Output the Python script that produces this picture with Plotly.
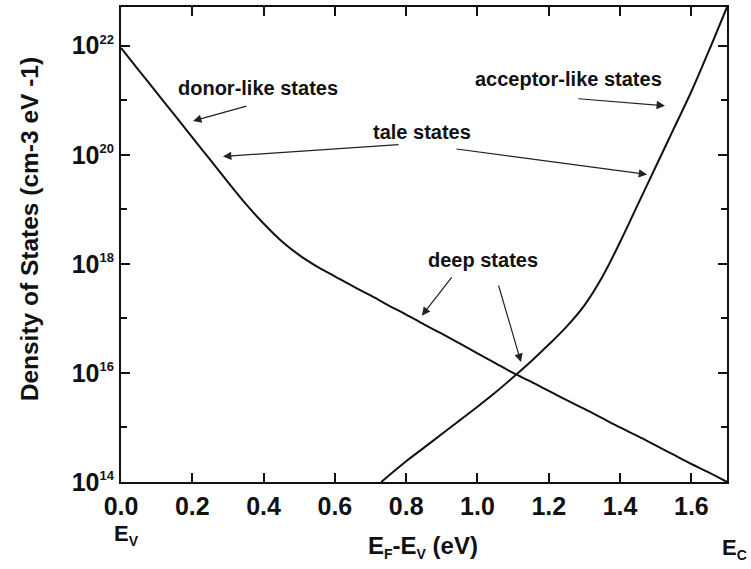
import plotly.graph_objects as go

# Energy above the valence band edge (eV)
donor_energy = [0.00, 0.05, 0.10, 0.15, 0.20, 0.25, 0.30, 0.35, 0.40, 0.45, 0.50, 0.55,
                0.60, 0.65, 0.70, 0.75, 0.80, 0.85, 0.90, 0.95, 1.00, 1.05, 1.10, 1.15,
                1.20, 1.25, 1.30, 1.35, 1.40, 1.45, 1.50, 1.55, 1.60, 1.65, 1.70]
# log10 of donor-like density of states (cm-3 eV-1)
donor_log10 = [21.96, 21.55, 21.14, 20.73, 20.32, 19.91, 19.50, 19.10, 18.74, 18.42, 18.16, 17.95,
               17.77, 17.59, 17.42, 17.24, 17.07, 16.89, 16.72, 16.54, 16.36, 16.18, 16.00, 15.84,
               15.67, 15.50, 15.34, 15.17, 15.00, 14.84, 14.67, 14.50, 14.33, 14.17, 14.00]

acceptor_energy = [0.73, 0.80, 0.85, 0.90, 0.95, 1.00, 1.05, 1.10, 1.15, 1.20, 1.25,
                   1.30, 1.35, 1.40, 1.45, 1.50, 1.55, 1.60, 1.65, 1.70]
# log10 of acceptor-like density of states (cm-3 eV-1)
acceptor_log10 = [14.00, 14.38, 14.63, 14.88, 15.13, 15.38, 15.64, 15.92, 16.21, 16.52, 16.85,
                  17.24, 17.76, 18.40, 19.09, 19.78, 20.47, 21.16, 21.92, 22.71]

x_tick_vals = [0.0, 0.2, 0.4, 0.6, 0.8, 1.0, 1.2, 1.4, 1.6]
x_tick_text = ["0.0", "0.2", "0.4", "0.6", "0.8", "1.0", "1.2", "1.4", "1.6"]
y_major_exp = [14, 16, 18, 20, 22]
y_minor_exp = [15, 17, 19, 21]

# Callout labels: (text, energy, log10 density)
labels = [
    ("donor-like states", 0.383, 21.23),
    ("tale states", 0.844, 20.41),
    ("acceptor-like states", 1.254, 21.39),
    ("deep states", 1.016, 18.07),
]
# Callout arrows: (tail energy, tail log10, tip energy, tip log10)
arrows = [
    (0.356, 20.90, 0.202, 20.62),
    (0.783, 20.19, 0.286, 19.97),
    (0.937, 20.11, 1.476, 19.64),
    (1.279, 21.03, 1.526, 20.90),
    (0.931, 17.78, 0.844, 17.05),
    (1.058, 17.63, 1.122, 16.20),
]

FONT = "Liberation Sans, Arial, Helvetica, sans-serif"
INK = "#111111"

fig = go.Figure()
for xs, logs in [(donor_energy, donor_log10), (acceptor_energy, acceptor_log10)]:
    fig.add_trace(go.Scatter(
        x=xs, y=[10.0 ** v for v in logs], mode="lines",
        line=dict(color=INK, width=2, shape="spline", smoothing=1.0),
        showlegend=False, hoverinfo="skip", cliponaxis=True,
    ))

axis_common = dict(
    showline=True, linewidth=2, linecolor=INK, mirror="ticks",
    ticks="inside", tickwidth=2, tickcolor=INK,
    showgrid=False, zeroline=False,
    tickfont=dict(family=FONT, size=25, color=INK, weight="bold"),
)

fig.update_xaxes(
    range=[0, 1.7], tickvals=x_tick_vals, ticktext=x_tick_text, ticklen=9,
    ticklabelstandoff=1, **axis_common,
)
fig.update_yaxes(
    type="log", range=[14, 22.71],
    tickvals=[10.0 ** e for e in y_major_exp],
    ticktext=[f"10<sup><span style='font-size:13px'>{e}</span></sup>" for e in y_major_exp],
    ticklen=9,
    minor=dict(tickvals=[10.0 ** e for e in y_minor_exp], ticklen=6, ticks="inside",
               tickwidth=2, tickcolor=INK, showgrid=False),
    **axis_common,
)

annotations = []
for text, x, y in labels:
    annotations.append(dict(
        text=f"<b>{text}</b>", x=x, y=y, xref="x", yref="y", showarrow=False,
        font=dict(family=FONT, size=20, color=INK), xanchor="center", yanchor="middle",
    ))
for ax, ay, x, y in arrows:
    annotations.append(dict(
        text="", x=x, y=y, ax=ax, ay=ay, xref="x", yref="y", axref="x", ayref="y",
        showarrow=True, arrowhead=2, arrowsize=1.4, arrowwidth=1.2, arrowcolor="#222222",
    ))

# Axis titles and band-edge markers
annotations += [
    dict(text="<b>Density of States (cm-3 eV -1)</b>", textangle=-90,
         x=-0.1518, y=0.532, xref="paper", yref="paper", showarrow=False,
         xanchor="center", yanchor="middle", font=dict(family=FONT, size=24.5, color=INK)),
    dict(text="<b>E<sub><span style='font-size:14px'>F</span></sub>-E<sub><span style='font-size:14px'>V</span></sub> (eV)</b>",
         x=0.498, y=-0.136, xref="paper", yref="paper", showarrow=False,
         xanchor="center", yanchor="middle", font=dict(family=FONT, size=24, color=INK)),
    dict(text="<b>E<sub><span style='font-size:14px'>V</span></sub></b>",
         x=0.0099, y=-0.112, xref="paper", yref="paper", showarrow=False,
         xanchor="center", yanchor="middle", font=dict(family=FONT, size=22, color=INK)),
    dict(text="<b>E<sub><span style='font-size:14px'>C</span></sub></b>",
         x=1.0116, y=-0.14, xref="paper", yref="paper", showarrow=False,
         xanchor="center", yanchor="middle", font=dict(family=FONT, size=22, color=INK)),
]

fig.update_layout(
    width=751, height=569, autosize=False,
    margin=dict(l=121, r=24, t=5, b=87),
    paper_bgcolor="white", plot_bgcolor="white",
    annotations=annotations,
)

fig.write_html("out.html")
